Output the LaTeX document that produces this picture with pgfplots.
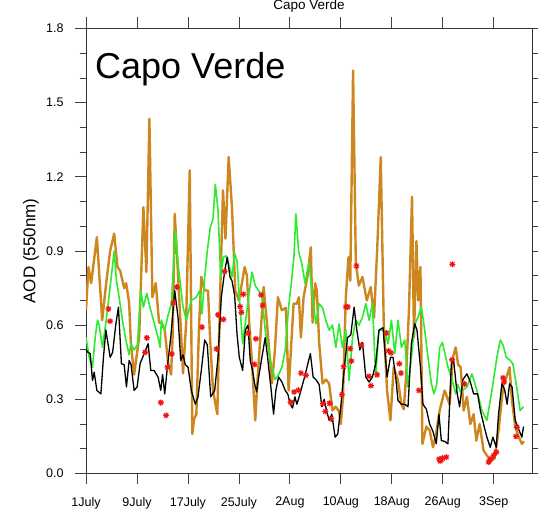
\documentclass[border=0pt]{standalone}
\usepackage{fontspec}
\setmainfont{Liberation Sans}
\usepackage{pgfplots}
\pgfplotsset{compat=1.18}

\definecolor{modorange}{RGB}{205,135,30}
\definecolor{modgreen}{RGB}{45,235,45}
\definecolor{obsred}{RGB}{240,20,20}

% eight-armed asterisk for the station observations
\pgfdeclareplotmark{ast8}{%
  \pgfpathmoveto{\pgfqpoint{-\pgfplotmarksize}{0pt}}%
  \pgfpathlineto{\pgfqpoint{\pgfplotmarksize}{0pt}}%
  \pgfpathmoveto{\pgfqpoint{0pt}{-\pgfplotmarksize}}%
  \pgfpathlineto{\pgfqpoint{0pt}{\pgfplotmarksize}}%
  \pgfpathmoveto{\pgfqpoint{-0.7071\pgfplotmarksize}{-0.7071\pgfplotmarksize}}%
  \pgfpathlineto{\pgfqpoint{0.7071\pgfplotmarksize}{0.7071\pgfplotmarksize}}%
  \pgfpathmoveto{\pgfqpoint{-0.7071\pgfplotmarksize}{0.7071\pgfplotmarksize}}%
  \pgfpathlineto{\pgfqpoint{0.7071\pgfplotmarksize}{-0.7071\pgfplotmarksize}}%
  \pgfusepathqstroke}

% days since 1 July
\pgfplotstableread{
day aod
0.00 0.66
0.39 0.835
0.81 0.77
1.71 0.956
2.54 0.62
3.17 0.77
3.79 0.90
4.42 0.97
4.94 0.835
5.36 0.82
5.99 0.75
6.30 0.77
6.77 0.69
7.04 0.53
7.55 0.40
8.34 0.55
9.01 1.077
9.48 0.815
9.95 1.435
10.42 0.713
10.95 0.77
11.47 0.61
11.83 0.61
12.36 0.58
12.88 0.45
13.35 0.40
13.59 0.55
13.93 1.05
14.29 0.88
14.45 0.80
14.76 0.65
15.23 0.405
15.70 0.60
16.28 1.226
16.69 0.16
16.96 0.22
17.32 0.24
17.75 0.60
18.10 0.795
18.63 0.74
19.15 0.74
19.47 0.55
19.93 0.336
20.61 0.24
21.03 0.70
21.50 1.145
21.89 0.95
22.39 1.28
22.91 1.077
23.43 0.74
24.01 0.70
24.90 0.835
25.26 0.80
25.62 0.61
26.05 0.45
26.56 0.215
26.98 0.40
27.88 0.754
28.40 0.61
29.18 0.364
29.65 0.50
30.12 0.713
30.75 0.66
31.38 0.67
31.80 0.336
32.58 0.687
33.10 0.687
33.41 0.713
33.73 0.55
34.15 0.713
34.78 0.80
35.29 0.915
35.56 0.61
35.97 0.77
36.23 0.74
36.59 0.53
37.13 0.364
37.64 0.38
38.16 0.364
38.69 0.255
39.21 0.27
39.73 0.25
39.99 0.20
40.31 0.30
40.78 0.713
41.20 0.875
41.48 0.78
41.92 1.63
42.35 0.85
42.82 0.76
43.39 0.795
44.07 0.70
44.69 0.754
45.21 0.63
45.74 0.93
46.26 1.28
46.73 0.61
47.25 0.336
47.78 0.215
48.30 0.43
48.93 0.38
49.51 0.28
49.87 0.26
50.26 0.40
50.70 0.67
51.17 1.12
51.48 0.55
51.86 0.94
52.14 0.70
52.49 0.835
52.80 0.12
53.42 0.19
53.94 0.174
54.46 0.106
54.88 0.15
55.51 0.255
56.29 0.336
57.07 0.28
57.59 0.47
58.02 0.51
58.41 0.44
58.80 0.43
59.28 0.255
59.79 0.31
60.32 0.20
60.84 0.24
61.26 0.133
61.78 0.20
62.40 0.093
63.45 0.053
64.12 0.06
64.75 0.174
65.53 0.364
66.00 0.39
66.48 0.43
66.84 0.30
67.37 0.19
67.89 0.15
68.41 0.12
68.75 0.13
}\modelA

\pgfplotstableread{
day aod
0.00 0.55
0.50 0.47
1.02 0.43
1.44 0.55
1.80 0.62
2.07 0.60
2.59 0.51
3.12 0.61
3.90 0.78
4.42 0.90
4.78 0.78
5.20 0.713
5.72 0.62
6.25 0.54
6.77 0.48
7.04 0.525
7.55 0.50
8.07 0.52
8.60 0.74
9.01 0.673
9.54 0.728
10.06 0.67
10.69 0.61
11.31 0.55
11.63 0.51
11.83 0.62
12.36 0.58
12.88 0.64
13.40 0.687
13.75 0.85
14.03 0.983
14.45 0.848
15.23 0.673
15.75 0.62
16.53 0.70
17.32 0.713
17.85 0.74
18.21 0.646
18.63 0.795
19.04 0.90
19.51 0.996
19.93 1.03
20.30 1.17
20.72 1.064
21.14 0.795
21.55 0.875
21.97 0.88
22.39 0.848
22.91 0.795
23.33 0.89
23.70 0.86
24.06 0.713
24.59 0.525
25.26 0.66
26.05 0.815
26.56 0.76
27.10 0.74
27.61 0.72
28.13 0.58
28.66 0.50
29.18 0.43
29.70 0.38
30.23 0.40
30.75 0.43
31.27 0.50
31.80 0.673
32.33 0.795
32.64 0.88
32.94 1.05
33.36 0.90
33.88 0.848
34.40 0.767
34.82 0.835
35.03 0.85
35.56 0.713
36.08 0.605
36.59 0.687
37.13 0.67
37.64 0.62
38.16 0.58
38.69 0.60
39.21 0.51
39.73 0.605
40.26 0.51
40.78 0.58
41.29 0.376
41.83 0.55
42.35 0.62
42.86 0.60
43.39 0.633
43.92 0.687
44.43 0.62
44.96 0.687
45.47 0.39
45.95 0.58
46.87 0.58
47.41 0.525
47.94 0.62
48.46 0.485
48.97 0.62
49.51 0.51
50.03 0.54
50.54 0.35
51.07 0.47
51.59 0.60
52.11 0.633
52.64 0.673
53.16 0.58
53.67 0.47
54.21 0.363
54.62 0.322
55.04 0.36
55.51 0.51
55.93 0.53
56.29 0.49
56.81 0.43
57.34 0.39
58.02 0.322
58.33 0.36
58.80 0.33
59.28 0.34
59.79 0.35
60.57 0.403
61.31 0.34
62.14 0.255
62.92 0.215
63.71 0.336
64.49 0.47
65.02 0.54
65.46 0.52
65.96 0.47
66.48 0.46
67.00 0.444
67.52 0.363
68.14 0.255
68.67 0.27
}\modelB

\pgfplotstableread{
day aod
0.00 0.50
0.34 0.49
0.66 0.485
1.02 0.376
1.28 0.41
1.71 0.336
2.34 0.322
2.74 0.47
3.12 0.58
3.79 0.47
4.18 0.49
4.69 0.605
5.09 0.673
5.56 0.444
5.99 0.44
6.35 0.35
6.77 0.457
7.08 0.44
7.55 0.336
8.02 0.35
8.49 0.444
9.12 0.485
9.75 0.525
10.17 0.417
10.69 0.417
11.31 0.39
11.73 0.336
12.02 0.40
12.36 0.322
12.77 0.43
13.30 0.55
13.93 0.74
14.45 0.63
14.87 0.457
15.23 0.48
15.59 0.44
16.02 0.43
16.53 0.336
17.16 0.28
17.58 0.31
18.10 0.417
18.63 0.54
19.04 0.52
19.57 0.31
20.20 0.336
20.72 0.47
21.24 0.713
21.77 0.82
22.18 0.875
22.60 0.795
22.91 0.78
23.33 0.72
23.70 0.565
24.06 0.47
24.59 0.417
25.00 0.58
25.42 0.60
25.78 0.457
26.12 0.42
26.47 0.363
26.78 0.33
27.10 0.39
27.61 0.47
28.13 0.55
28.50 0.47
29.07 0.336
29.44 0.24
29.80 0.336
30.23 0.39
30.75 0.37
31.27 0.336
31.69 0.32
32.05 0.28
32.42 0.265
32.79 0.31
33.10 0.28
33.46 0.31
33.88 0.35
34.31 0.39
34.82 0.444
35.22 0.485
35.65 0.39
36.08 0.38
36.59 0.36
37.02 0.27
37.38 0.30
37.75 0.255
38.16 0.215
38.58 0.24
39.10 0.147
39.52 0.16
39.99 0.27
40.51 0.417
41.04 0.55
41.56 0.56
42.08 0.673
42.51 0.58
42.98 0.50
43.39 0.53
43.92 0.39
44.43 0.37
44.96 0.39
45.47 0.444
45.99 0.58
46.62 0.59
47.25 0.39
47.78 0.47
48.19 0.47
48.61 0.39
48.97 0.295
49.51 0.28
50.03 0.28
50.54 0.27
51.07 0.525
51.59 0.606
51.95 0.58
52.49 0.43
52.89 0.28
53.42 0.26
53.94 0.20
54.46 0.17
54.98 0.12
55.40 0.24
55.77 0.133
56.29 0.13
56.81 0.12
57.34 0.444
57.70 0.457
58.22 0.33
58.64 0.27
59.16 0.38
59.79 0.403
60.32 0.37
60.84 0.322
61.47 0.322
61.89 0.255
62.40 0.20
62.92 0.147
63.45 0.106
63.86 0.147
64.39 0.106
64.75 0.24
65.27 0.363
65.70 0.34
66.09 0.28
66.48 0.363
66.87 0.35
67.37 0.215
67.89 0.18
68.41 0.147
68.67 0.19
}\modelC

\pgfplotstableread{
day aod
3.53 0.666
3.79 0.616
9.28 0.490
9.54 0.549
11.74 0.287
12.57 0.235
12.77 0.430
13.46 0.484
13.71 0.690
14.25 0.754
18.21 0.592
20.48 0.504
20.72 0.642
21.55 0.623
21.77 0.817
24.20 0.675
24.40 0.652
24.71 0.725
25.47 0.568
26.44 0.441
26.67 0.545
27.49 0.722
27.72 0.680
32.13 0.288
32.66 0.330
33.33 0.337
33.73 0.406
34.52 0.397
37.17 0.282
37.56 0.251
38.22 0.284
38.50 0.221
40.18 0.319
40.43 0.432
40.78 0.674
41.09 0.674
41.48 0.505
41.64 0.455
42.45 0.840
43.24 0.519
44.43 0.393
44.70 0.355
45.71 0.400
47.16 0.568
47.49 0.496
47.88 0.488
49.19 0.444
49.44 0.406
52.25 0.336
55.43 0.058
55.59 0.050
55.77 0.055
55.98 0.062
56.56 0.066
57.47 0.460
57.50 0.846
59.40 0.362
63.19 0.046
63.42 0.055
63.58 0.060
63.97 0.073
64.39 0.086
65.46 0.387
65.62 0.370
67.47 0.150
67.62 0.187
}\obs

\begin{document}
\begin{tikzpicture}
\useasboundingbox (-86pt,-36.5pt) rectangle (452pt,473.5pt);
\begin{axis}[
  at={(0pt,0pt)}, anchor=south west,
  scale only axis, width=446pt, height=445pt,
  xmin=0, xmax=70, ymin=0, ymax=1.8,
  xtick={0,8,16,24,32,40,48,56,64},
  xticklabels={1July,9July,17July,25July,2Aug,10Aug,18Aug,26Aug,3Sep},
  ytick={0,0.3,0.6,0.9,1.2,1.5,1.8},
  yticklabels={0.0,0.3,0.6,0.9,1.2,1.5,1.8},
  minor y tick num=2,
  tick align=outside,
  major tick length=11pt, minor tick length=6pt,
  ticklabel style={font=\fontsize{12.5}{14}\selectfont},
  xticklabel style={yshift=-9pt},
  yticklabel style={xshift=-8pt},
  axis line style={line width=0.9pt, black!80},
  every tick/.style={black!75, line width=0.8pt},
  ylabel={AOD (550nm)},
  ylabel style={font=\fontsize{17}{20}\selectfont, at={(axis description cs:-0.1233,0.5)}, anchor=center},
  title={Capo Verde},
  title style={font=\fontsize{13.5}{16}\selectfont, at={(axis description cs:0.5,1)}, anchor=base, yshift=12.5pt},
]
\addplot[modorange, line width=2.4pt, line join=round] table[x=day, y=aod] {\modelA};
\addplot[modgreen, line width=1.6pt, line join=round] table[x=day, y=aod] {\modelB};
\addplot[black, line width=1.3pt, line join=round] table[x=day, y=aod] {\modelC};
\addplot[only marks, mark=ast8, mark size=3pt, obsred, mark options={line width=1.1pt}] table[x=day, y=aod] {\obs};
\node[anchor=base west, inner sep=0pt, font=\fontsize{36}{40}\selectfont] at (rel axis cs:0.0202,0.8865) {Capo Verde};
\end{axis}
\end{tikzpicture}
\end{document}
